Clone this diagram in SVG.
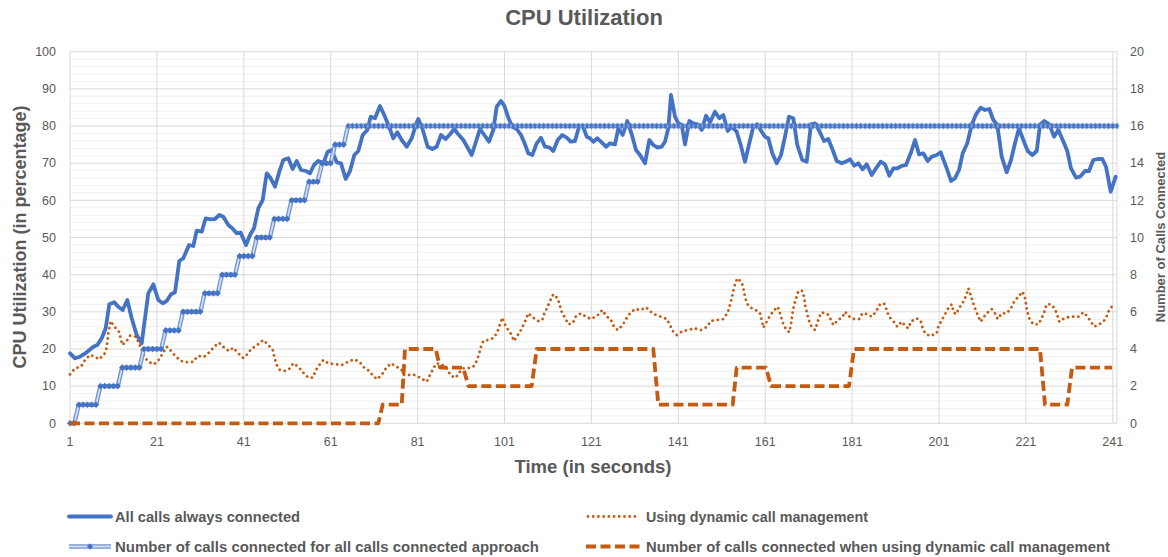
<svg xmlns="http://www.w3.org/2000/svg" width="1168" height="557" viewBox="0 0 1168 557">
<style>
.t{font-family:"Liberation Sans",Arial,sans-serif;fill:#595959}
.tick{font-size:12.5px}
.ttl{font-weight:bold}
.leg{font-size:15.5px;font-weight:bold}
.major{stroke:#d9d9d9;stroke-width:1;fill:none}
.minor{stroke:#f0f0f0;stroke-width:1;fill:none}
.s1{fill:none;stroke:#4472C4;stroke-width:3.8;stroke-linejoin:round;stroke-linecap:round}
.s2{fill:none;stroke:#C55A11;stroke-width:2.8;stroke-linecap:round;stroke-linejoin:round;stroke-dasharray:0.01 5.2}
.s3o{fill:none;stroke:#6F93D4;stroke-width:4.4;stroke-linejoin:round}
.s3i{fill:none;stroke:#D2DDF2;stroke-width:1.8;stroke-linejoin:round}
.s4{fill:none;stroke:#C55A11;stroke-width:3.8;stroke-dasharray:10 4.5;stroke-linejoin:round}
</style>
<defs>
<marker id="dia" markerUnits="userSpaceOnUse" markerWidth="7" markerHeight="7" refX="3.5" refY="3.5" overflow="visible">
<polygon points="3.5,0.2 6.5,3.5 3.5,6.8 0.5,3.5" fill="#4472C4"/>
</marker>
<pattern id="diaRow" patternUnits="userSpaceOnUse" x="67.8275" y="122.6" width="4.345" height="6.8">
<polygon points="2.1725,0.1 4.345,3.4 2.1725,6.7 0,3.4" fill="#4472C4"/>
</pattern>
</defs>
<rect width="1168" height="557" fill="#ffffff"/>

<g id="title"><text class="t ttl" x="584" y="25" text-anchor="middle" font-size="22">CPU Utilization</text></g>

<g id="gridlines">
<path class="minor" d="M70 415.87H1117M70 408.44H1117M70 401H1117M70 393.57H1117M70 378.71H1117M70 371.28H1117M70 363.84H1117M70 356.41H1117M70 341.55H1117M70 334.12H1117M70 326.68H1117M70 319.25H1117M70 304.39H1117M70 296.96H1117M70 289.52H1117M70 282.09H1117M70 267.23H1117M70 259.8H1117M70 252.36H1117M70 244.93H1117M70 230.07H1117M70 222.64H1117M70 215.2H1117M70 207.77H1117M70 192.91H1117M70 185.48H1117M70 178.04H1117M70 170.61H1117M70 155.75H1117M70 148.32H1117M70 140.88H1117M70 133.45H1117M70 118.59H1117M70 111.16H1117M70 103.72H1117M70 96.29H1117M70 81.43H1117M70 74H1117M70 66.56H1117M70 59.13H1117"/>
<path class="major" d="M70 423.3H1117M70 386.14H1117M70 348.98H1117M70 311.82H1117M70 274.66H1117M70 237.5H1117M70 200.34H1117M70 163.18H1117M70 126.02H1117M70 88.86H1117M70 51.7H1117"/>
<path class="major" d="M70 51.7V423.3M156.9 51.7V423.3M243.8 51.7V423.3M330.7 51.7V423.3M417.6 51.7V423.3M504.5 51.7V423.3M591.4 51.7V423.3M678.3 51.7V423.3M765.2 51.7V423.3M852.1 51.7V423.3M939 51.7V423.3M1025.9 51.7V423.3M1112.8 51.7V423.3M1117 51.7V423.3"/>
</g>

<g id="axis-left" class="t tick" text-anchor="end">
<text x="56" y="427.5">0</text><text x="56" y="390.3">10</text><text x="56" y="353.2">20</text><text x="56" y="316">30</text><text x="56" y="278.9">40</text><text x="56" y="241.7">50</text><text x="56" y="204.5">60</text><text x="56" y="167.4">70</text><text x="56" y="130.2">80</text><text x="56" y="93.1">90</text><text x="56" y="55.9">100</text>
</g>
<g id="axis-right" class="t tick" text-anchor="start">
<text x="1130" y="427.5">0</text><text x="1130" y="390.3">2</text><text x="1130" y="353.2">4</text><text x="1130" y="316">6</text><text x="1130" y="278.9">8</text><text x="1130" y="241.7">10</text><text x="1130" y="204.5">12</text><text x="1130" y="167.4">14</text><text x="1130" y="130.2">16</text><text x="1130" y="93.1">18</text><text x="1130" y="55.9">20</text>
</g>
<g id="axis-bottom" class="t tick" text-anchor="middle">
<text x="70" y="446">1</text><text x="156.9" y="446">21</text><text x="243.8" y="446">41</text><text x="330.7" y="446">61</text><text x="417.6" y="446">81</text><text x="504.5" y="446">101</text><text x="591.4" y="446">121</text><text x="678.3" y="446">141</text><text x="765.2" y="446">161</text><text x="852.1" y="446">181</text><text x="939" y="446">201</text><text x="1025.9" y="446">221</text><text x="1112.8" y="446">241</text>
</g>
<g id="axis-titles" class="t ttl">
<text transform="translate(26,237) rotate(-90)" text-anchor="middle" font-size="18">CPU Utilization (in percentage)</text>
<text x="593" y="473" text-anchor="middle" font-size="18.5">Time (in seconds)</text>
<text transform="translate(1165,237) rotate(-90)" text-anchor="middle" font-size="13">Number of Calls Connected</text>
</g>

<g id="series">
<polyline id="all-calls" class="s1" points="70,353.3 75,358.3 80,356.7 86.7,352.3 93.3,346.7 97.3,345 101.7,338.3 105.7,328.3 109.3,304.3 114.3,302.3 118.3,306.7 122.7,310 127.3,300 131.7,318.3 136.7,335 141.7,343.3 148.3,293.3 153.3,284.3 158.3,300 162.7,303.3 166.7,301 171,294.3 175,292.3 179.3,261 183.3,258.3 189,245 193.3,246 196.7,230.7 201.7,231.7 205.7,218.3 210.7,219.3 215,219 219.3,215 223.3,216.7 228.3,225 232.3,228.3 236.7,233.3 240.7,232.7 246,245 250,235 254,228.3 258.3,208.3 262.7,200 266.7,173.3 270.7,178.3 275,186.7 279.3,171.7 283.3,160 288.3,158.3 292.7,169 296.7,161 301,170 306,171 310,173.3 314,165 318.3,161 323.3,163.3 327.7,151.7 331.7,150 336.7,162.3 341,163.3 345.7,179 350,171 354.3,155 358.3,151 362.7,135 367.3,130 370.7,116.7 375,118.3 380,106 385,116.7 389,126.7 393.3,138.3 397.3,132.3 401.7,140 406.7,146.7 411.7,138.3 416.7,122.3 418.3,119 422.3,128.3 427.7,146.7 432.3,149 436.7,146.7 441,135 445.7,139 450,134.3 454.3,129 458.3,134.3 463.3,140 467.7,147.7 471.7,155 476,141.7 480,129 484.3,135 489,141.7 493.3,130 496.7,106.7 501,101 504.3,105.7 508.3,117.7 512.3,126.7 516.7,129 521,135 525,144.3 528.3,153.3 532.3,155 536.7,143.3 541,137.7 545,146.7 549.3,147.3 553.3,151 557.7,140 562.3,135 566.7,137.7 570.7,141.7 575,141 579,126.7 582.7,125.7 586.7,136.7 590,138.3 593.3,141.7 597.3,138.3 601.7,142.3 606,146.7 610,143.3 615,144.3 618.3,128.3 622.7,135 627.3,121 631.7,134.3 636,150 640,155 645,163.3 649.3,140 653.3,145 657.7,147.7 661.7,146.7 665,141.7 668.3,128.3 671,95 675,116.7 678.3,123.3 681.7,125 685,144.3 689.3,121 693.3,123.3 697.7,124.3 701.7,130 706,115.7 710,122.3 715,111.7 719.3,118.3 723.3,115 727.7,131 731.7,126.7 736.7,131.7 740.7,145 745,161.7 749.3,143.3 753.3,126.7 757.3,124.3 761.7,131.7 765,136.7 768.3,138.3 772.3,153.3 776.7,163.3 781,155 785,136.7 789,116.7 793.3,118.3 797.3,145 802.3,160 806.7,161.7 811,124.3 815,123.3 819.3,131 824,141 828.3,139 832.7,150 836.7,161 841.7,163.3 845.7,161.7 850,159.3 854.3,165.7 858.3,163.3 862.7,169.3 866.7,164.3 871.7,175 876,168.3 880.7,161.7 885,164.3 889.3,175.7 893.3,168.3 897.3,168.3 901.7,166 906,165 910.7,153.3 915,140 919,154.3 923.3,153.3 927.7,161 931.7,156.7 936.7,155 940.7,152.3 946.7,168.3 951,181 955,178.3 959,170 962.7,153.3 967.3,143.3 971.7,125 976,114.3 980.7,107.7 985,110 989.3,109 993.3,120 997.3,125 1001.7,156.7 1006.7,172.3 1011,160 1015,143.3 1019,128.3 1023.3,140 1027.7,151 1032.3,155 1036.7,151 1040,125 1044.3,121 1049.3,124.3 1054,136.7 1058.3,130 1062.7,140 1067.3,151 1071,168.3 1076,177.7 1080,176.7 1085,171 1089,171 1093.3,160 1097.7,159 1102.3,159 1106,166.7 1110.7,191.7 1115.7,176.7"/>
<polyline id="dynamic" class="s2" points="70,374.3 75,368.3 81,366.7 85,360 90,355 95,356.7 99,359.3 104.3,354.3 106.7,347.7 108.3,333.3 110.7,321 114.3,326.7 119,331.7 122.3,345 126.7,341 130,335.7 136,336.7 139,343.3 141.7,350 144.3,356.7 148.3,361.7 154,364.3 159.3,359.3 162.7,353.3 166.7,346.7 171,351 176,356.7 181,361 187.7,362.3 193.3,361.7 197.7,356 204.3,356.7 209.3,352.3 214.3,346.7 219,342.7 224.3,347.7 229,351 233.3,347.7 238.3,353.3 243.3,358 247.3,354.3 251.7,348.3 256,346 260,342.7 263.3,340 268.3,345 272.7,350 274.3,356.7 276.7,365 280,370 285,371 290,368.3 293.3,363.3 298.3,366.7 303.3,372.7 308.3,377.7 312.7,377.7 316,370 319.3,365 323.3,360 328.3,363.3 336,364.3 341.7,365 348.3,361.7 354,359.3 359.3,361.7 364.3,367.7 369.3,371 373.3,376 377.3,379.3 382.7,373.3 386,368.3 390.7,363.3 396.7,366.7 401.7,370 404,375 408.3,375 415,375 420,377.7 426.7,381.7 430,375 433.3,368.3 436.7,363.3 441.7,364.3 446.7,368.3 450.7,375.7 455.7,377.7 460,371.7 463.3,368.3 467.7,368.3 473.3,366.7 476.7,361 479,354.3 481,346.7 483.3,341 488.3,340 494,337.7 497.7,331 500,324.3 502.3,317.7 504.3,323.3 508.3,330 511.7,335 514,341 516.7,336.7 521,330 525,321.7 528.3,313.3 533.3,317.7 538.3,321 542.3,320 544.3,313.3 547.3,307.7 550,301 553.3,294.3 557.7,298.3 561.7,311.7 565,317.7 568.3,324.3 572.7,323.3 575.7,316.7 581,313.3 586,316.7 591,319 597.3,315.7 602.3,310 606,315.7 611,320 614,326.7 617.7,330 622.7,325 626,319 630,313.3 635,309 640.7,310 646,307.3 650.7,311.7 656,315 661,316.7 666.7,319 670,325 672.7,331 676.7,335 682.7,331 688.3,330 694.3,328.3 701,330 707.3,326.7 710.7,321 716.7,320 723.3,319 727.7,312.7 730,305 731.7,298.3 733.3,291 735,284.3 737.3,278.3 741.7,282.3 743.3,288.3 745,296.7 746.7,303.3 751,307.7 755.7,310 760,313.3 761.7,320 763.3,327.7 766.7,321.7 770,315.7 774.3,310 777.7,306.7 780,313.3 782.3,321 784.3,326.7 789.3,332.3 791,324.3 792.7,311.7 794.3,304.3 796.7,296.7 798.3,291 802.3,291 804.3,297.7 805,305 806.7,311.7 808.3,319 811,325.7 815,330 817.3,323.3 819.3,316.7 821.7,312.3 827.7,314.3 831,320 833.3,325 838.3,320 842.7,316.7 845,311.7 848.3,315.7 853.3,319 859.3,319 862.3,313.3 867.7,314.3 871.7,316.7 876,311.7 879.3,305 884,303.3 886.7,310 889,316.7 893.3,321 897.3,326.7 901.7,321.7 906,326.7 908.3,328.3 910.7,321.7 916.7,318.3 920.7,321 922.3,326.7 925,333.3 930,336 936.7,333.3 938.3,326.7 941.7,320 945,314.3 948.3,308.3 951.7,304.3 953.3,311.7 956,314.3 959.3,307.7 963.3,301.7 966.7,294.3 968.3,288.3 970.7,295 972.7,301.7 975,308.3 977.7,315 980.7,321.7 983.3,317.7 986.7,313.3 991.7,309 995,313.3 997.7,319 1001.7,313.3 1006.7,313.3 1011,308.3 1014,301.7 1018.3,296.7 1022.7,291.7 1025,298.3 1027.3,311.7 1029.3,318.3 1033.3,324.3 1038.3,324.3 1041.7,318.3 1044.3,311.7 1046.7,304.3 1051,304.3 1055,309 1057.3,315 1059.3,321.7 1065,317.7 1071.7,316.7 1078.3,316.7 1083.3,312.3 1086.7,315.7 1091,321.7 1094.3,326.7 1101,323.3 1105.7,319 1108.3,311.7 1111.7,306.7"/>
<g id="calls-all">
<polyline class="s3o" points="70,423.3 74.35,423.3 78.69,404.7 96.07,404.7 100.42,386.1 117.8,386.1 122.14,367.6 139.52,367.6 143.87,349 161.25,349 165.59,330.4 178.63,330.4 182.97,311.8 200.35,311.8 204.7,293.2 217.73,293.2 222.08,274.7 235.11,274.7 239.46,256.1 252.49,256.1 256.84,237.5 269.87,237.5 274.22,218.9 287.25,218.9 291.6,200.3 304.63,200.3 308.98,181.8 317.67,181.8 322.01,163.2 330.7,163.2 335.05,144.6 343.74,144.6 348.08,126 1117,126"/>
<polyline class="s3i" points="70,423.3 74.35,423.3 78.69,404.7 96.07,404.7 100.42,386.1 117.8,386.1 122.14,367.6 139.52,367.6 143.87,349 161.25,349 165.59,330.4 178.63,330.4 182.97,311.8 200.35,311.8 204.7,293.2 217.73,293.2 222.08,274.7 235.11,274.7 239.46,256.1 252.49,256.1 256.84,237.5 269.87,237.5 274.22,218.9 287.25,218.9 291.6,200.3 304.63,200.3 308.98,181.8 317.67,181.8 322.01,163.2 330.7,163.2 335.05,144.6 343.74,144.6 348.08,126 1117,126"/>
<polyline fill="none" stroke="none" marker-start="url(#dia)" marker-mid="url(#dia)" marker-end="url(#dia)" points="70,423.3 74.35,423.3 78.69,404.7 83.04,404.7 87.38,404.7 91.73,404.7 96.07,404.7 100.42,386.1 104.76,386.1 109.11,386.1 113.45,386.1 117.8,386.1 122.14,367.6 126.49,367.6 130.83,367.6 135.18,367.6 139.52,367.6 143.87,349 148.21,349 152.56,349 156.9,349 161.25,349 165.59,330.4 169.94,330.4 174.28,330.4 178.63,330.4 182.97,311.8 187.32,311.8 191.66,311.8 196.01,311.8 200.35,311.8 204.7,293.2 209.04,293.2 213.39,293.2 217.73,293.2 222.08,274.7 226.42,274.7 230.77,274.7 235.11,274.7 239.46,256.1 243.8,256.1 248.15,256.1 252.49,256.1 256.84,237.5 261.18,237.5 265.53,237.5 269.87,237.5 274.22,218.9 278.56,218.9 282.91,218.9 287.25,218.9 291.6,200.3 295.94,200.3 300.29,200.3 304.63,200.3 308.98,181.8 313.32,181.8 317.67,181.8 322.01,163.2 326.36,163.2 330.7,163.2 335.05,144.6 339.39,144.6 343.74,144.6"/>
<rect x="345.9" y="122.6" width="773.3" height="6.8" fill="url(#diaRow)"/>
</g>
<polyline id="calls-dynamic" class="s4" points="70,423.3 378.3,423.3 382.7,404.7 401.7,404.7 405,349 435.7,349 440,367.6 463.3,367.6 468.3,386.1 531.7,386.1 536.7,349 653.3,349 658.3,404.7 732.7,404.7 736.7,367.6 766,367.6 771,386.1 849,386.1 854,349 1040,349 1045,404.7 1067.3,404.7 1072,367.6 1112,367.6"/>
</g>

<g id="legend">
<g id="leg-all">
<line class="s1" x1="69" y1="516.5" x2="111" y2="516.5" stroke-linecap="butt"/>
<text class="t leg" x="115" y="521.7" textLength="185" lengthAdjust="spacingAndGlyphs">All calls always connected</text>
</g>
<g id="leg-dyn">
<line class="s2" x1="588" y1="516.5" x2="640" y2="516.5"/>
<text class="t leg" x="646" y="521.7" textLength="222" lengthAdjust="spacingAndGlyphs">Using dynamic call management</text>
</g>
<g id="leg-calls-all">
<line class="s3o" x1="69" y1="546.5" x2="111" y2="546.5"/>
<line class="s3i" x1="69" y1="546.5" x2="111" y2="546.5"/>
<polygon points="90,543.3 93,546.5 90,549.7 87,546.5" fill="#4472C4"/>
<text class="t leg" x="115" y="551.7" textLength="424" lengthAdjust="spacingAndGlyphs">Number of calls connected for all calls connected approach</text>
</g>
<g id="leg-calls-dyn">
<line class="s4" x1="586" y1="546.5" x2="640" y2="546.5"/>
<text class="t leg" x="646" y="551.7" textLength="464" lengthAdjust="spacingAndGlyphs">Number of calls connected when using dynamic call management</text>
</g>
</g>
</svg>
